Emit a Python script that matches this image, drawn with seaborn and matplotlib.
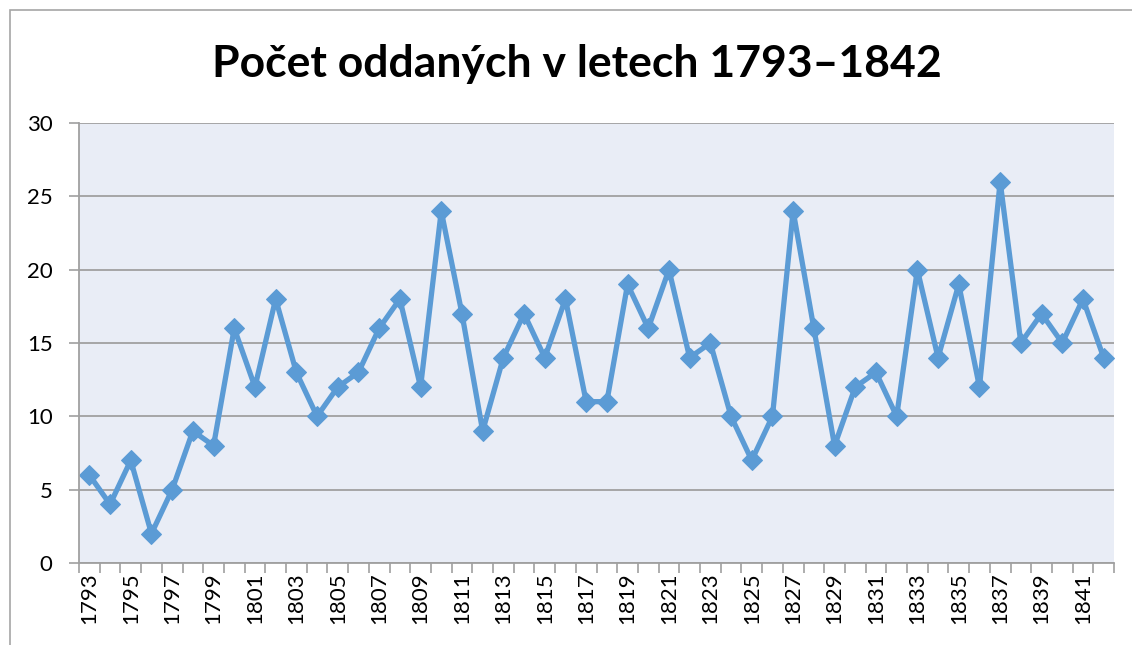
import matplotlib
matplotlib.use('Agg')
import matplotlib.pyplot as plt
import seaborn as sns
import pandas as pd
from matplotlib.patches import Rectangle

years = list(range(1793, 1843))
counts = [6, 4, 7, 2, 5, 9, 8, 16, 12, 18,
          13, 10, 12, 13, 16, 18, 12, 24, 17, 9,
          14, 17, 14, 18, 11, 11, 19, 16, 20, 14,
          15, 10, 7, 10, 24, 16, 8, 12, 13, 10,
          20, 14, 19, 12, 26, 15, 17, 15, 18, 14]
title = 'Počet oddaných v letech 1793–1842'

sns.set_style('white')
plt.rcParams['font.family'] = ['Lato', 'DejaVu Sans']
plt.rcParams['text.color'] = 'black'
plt.rcParams['xtick.labelcolor'] = 'black'
plt.rcParams['ytick.labelcolor'] = 'black'

df = pd.DataFrame({'rok': years, 'pocet': counts})

fig = plt.figure(figsize=(11.32, 6.45), dpi=100)
ax = fig.add_axes([79 / 1132, 1 - 563 / 645, (1114 - 79) / 1132, (563 - 123) / 645])

# outer chart border (cropped at right/bottom)
fig.patches.append(Rectangle((10 / 1132, -0.1), 1.2, 1 - 10 / 645 + 0.1,
                             transform=fig.transFigure, fill=False,
                             edgecolor='#a6a6a6', linewidth=1.2))

sns.lineplot(data=df, x='rok', y='pocet', ax=ax, color='#5b9bd5',
             linewidth=3.8, marker='D', markersize=10,
             markeredgecolor='#5b9bd5', markerfacecolor='#5b9bd5')

ax.set_facecolor('#e9edf6')
ax.set_xlim(1792.5, 1842.5)
ax.set_ylim(0, 30)
ax.set_yticks(range(0, 31, 5))
ax.grid(axis='y', color='#a0a0a0', linewidth=1.3)
ax.set_axisbelow(True)

ax.set_xticks(years[::2])
ax.set_xticklabels([str(y) for y in years[::2]], rotation=90)
ax.set_xticks([y + 0.5 for y in range(1792, 1843)], minor=True)
ax.tick_params(axis='x', which='major', length=0, pad=7, labelsize=16)
ax.tick_params(axis='x', which='minor', length=7, color='#a0a0a0', width=1.2,
               direction='out', bottom=True)
ax.tick_params(axis='y', length=7, color='#a0a0a0', width=1.2, direction='out',
               left=True, labelsize=16, pad=12)

for s in ['top', 'right']:
    ax.spines[s].set_visible(False)
for s in ['left', 'bottom']:
    ax.spines[s].set_color('#a0a0a0')
    ax.spines[s].set_linewidth(1.3)

ax.set_xlabel('')
ax.set_ylabel('')
fig.text(577 / 1132, 1 - 64 / 645, title, ha='center', va='center',
         fontsize=32, fontweight='bold', color='black')

fig.savefig('out.png', dpi=100)
